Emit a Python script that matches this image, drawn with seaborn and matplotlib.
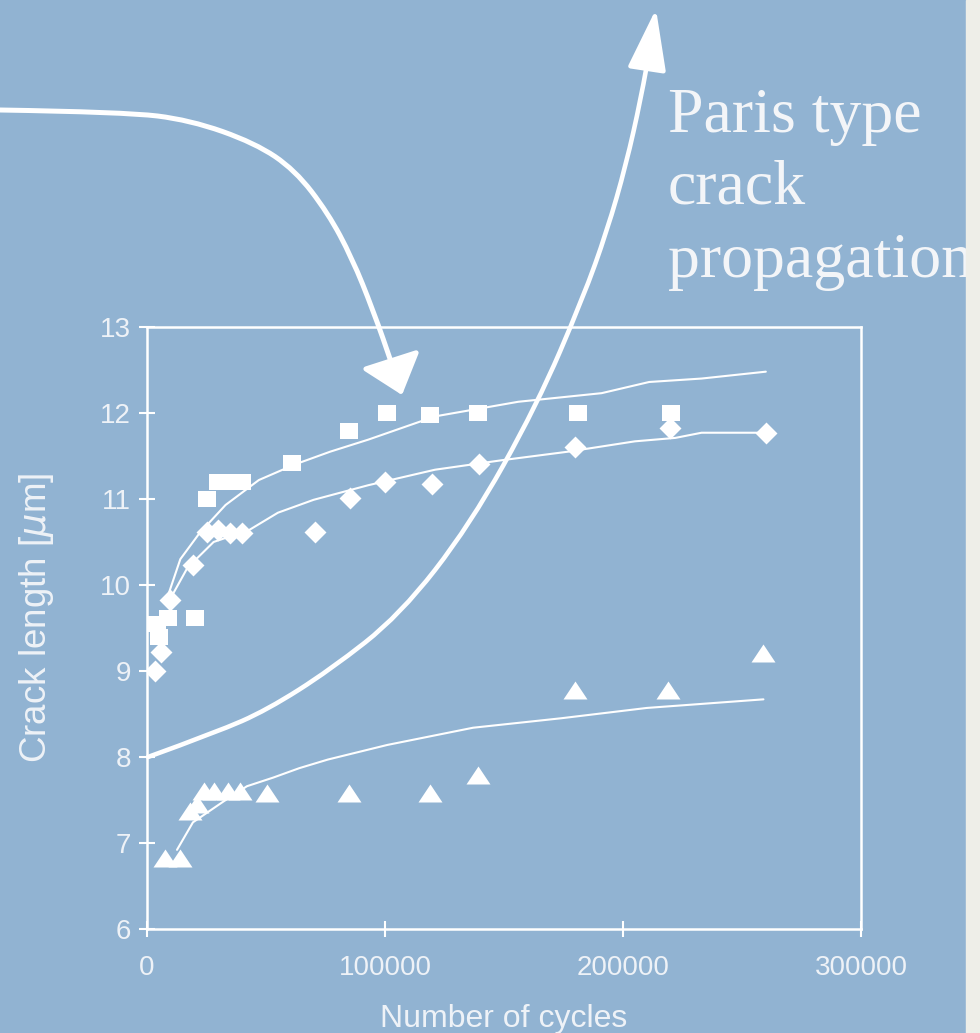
import numpy as np
import pandas as pd
import seaborn as sns
import matplotlib.pyplot as plt
from matplotlib.path import Path
from matplotlib.patches import FancyArrowPatch, Rectangle
from matplotlib.transforms import Affine2D

# measured points (number of cycles, crack length in um)
square_cycles = [4000, 5000, 9000, 20000, 25000, 30000, 35000, 40000, 61000,
                 85000, 101000, 119000, 139000, 181000, 220000]
square_length = [9.55, 9.4, 9.62, 9.62, 11.0, 11.2, 11.2, 11.2, 11.42,
                 11.79, 12.0, 11.98, 12.0, 12.0, 12.0]

diamond_cycles = [3500, 6000, 9700, 19300, 25000, 30000, 35000, 40000, 70600,
                  85300, 100000, 119700, 139500, 180000, 219800, 260000]
diamond_length = [9.0, 9.22, 9.83, 10.23, 10.62, 10.64, 10.6, 10.6, 10.62,
                  11.01, 11.2, 11.17, 11.41, 11.6, 11.83, 11.77]

triangle_cycles = [7600, 13900, 18000, 21000, 24000, 28000, 34000, 39000, 50400,
                   84700, 119000, 139000, 180000, 219000, 259000]
triangle_length = [6.82, 6.82, 7.37, 7.45, 7.6, 7.6, 7.6, 7.6, 7.58,
                   7.58, 7.58, 7.79, 8.78, 8.78, 9.21]

# model curves
fit1_cycles = [8500, 14000, 22000, 33000, 47000, 62000, 77000, 93000, 121000,
               156000, 191000, 211000, 233000, 260000]
fit1_length = [9.85, 10.3, 10.6, 10.93, 11.22, 11.4, 11.55, 11.69, 11.96,
               12.13, 12.23, 12.36, 12.40, 12.48]
fit2_cycles = [10000, 17000, 28000, 43000, 55000, 70000, 93000, 121000, 149000,
               177000, 205000, 222000, 233000, 260000]
fit2_length = [9.85, 10.2, 10.5, 10.64, 10.84, 10.99, 11.16, 11.34, 11.45,
               11.55, 11.67, 11.71, 11.77, 11.77]
fit3_cycles = [12600, 19300, 32000, 42000, 53000, 64000, 76000, 101000, 137000,
               174000, 210000, 259000]
fit3_length = [6.92, 7.24, 7.48, 7.66, 7.76, 7.87, 7.97, 8.14, 8.34,
               8.45, 8.57, 8.67]

x_ticks = [0, 100000, 200000, 300000]
y_ticks = [6, 7, 8, 9, 10, 11, 12, 13]

bg = '#91B3D2'
txt = '#EEF2F7'

sns.set_theme(style='white')
plt.rcParams['font.family'] = ['Liberation Sans', 'DejaVu Sans']

fig = plt.figure(figsize=(9.8, 10.33), dpi=100, facecolor=bg)
ax = fig.add_axes([0.15, 0.1007, 0.7286, 0.5828])
ax.set_facecolor(bg)

sq_marker = [(-1, -0.82), (1, -0.82), (1, 0.82), (-1, 0.82)]
di_marker = [(0, 1), (1, 0), (0, -1), (-1, 0)]
tr_marker = [(0, 0.75), (-1, -0.75), (1, -0.75)]

for xs, ys in [(fit1_cycles, fit1_length), (fit2_cycles, fit2_length), (fit3_cycles, fit3_length)]:
    sns.lineplot(x=xs, y=ys, sort=False, estimator=None, color='white', lw=1.5, ax=ax)

sns.scatterplot(x=square_cycles, y=square_length, marker=sq_marker, s=187,
                color='white', linewidth=0, ax=ax, zorder=3)
sns.scatterplot(x=diamond_cycles, y=diamond_length, marker=di_marker, s=250,
                color='white', linewidth=0, ax=ax, zorder=3)
sns.scatterplot(x=triangle_cycles, y=triangle_length, marker=tr_marker, s=299,
                color='white', linewidth=0, ax=ax, zorder=3)

ax.set_xlim(0, 300000)
ax.set_ylim(6, 13)
ax.set_xticks(x_ticks, labels=[str(t) for t in x_ticks])
ax.set_yticks(y_ticks, labels=[str(t) for t in y_ticks])
ax.tick_params(direction='inout', length=11, width=1.5, color='white',
               labelcolor=txt, labelsize=20, bottom=True, left=True)
ax.tick_params(axis='x', pad=13)
ax.tick_params(axis='y', pad=6)
for s in ax.spines.values():
    s.set_color('white')
    s.set_linewidth(1.8)

ax.set_xlabel('Number of cycles', fontsize=23, color=txt)
ax.xaxis.set_label_coords(0.5, -0.125)
ax.set_ylabel(r'Crack length [$\mu$m]', fontsize=26.5, color=txt)
ax.yaxis.set_label_coords(-0.128, 0.517)

# overlay annotation, in image pixels from the top-left corner
px = Affine2D().scale(1 / 980, -1 / 1033).translate(0, 1) + fig.transFigure


def smooth_path(pts):
    pts = np.asarray(pts, dtype=float)
    verts = [pts[0]]
    codes = [Path.MOVETO]
    for i in range(1, len(pts) - 1):
        end = pts[-1] if i == len(pts) - 2 else (pts[i] + pts[i + 1]) / 2
        verts += [pts[i], end]
        codes += [Path.CURVE3, Path.CURVE3]
    return Path(verts, codes)


arrow_a = [(0, 110), (125, 112), (190, 120), (255, 143), (295, 170), (328, 213),
           (352, 258), (373, 310), (393, 367), (402, 395)]
arrow_b = [(148, 757), (217, 732), (267, 710), (330, 670), (400, 615), (470, 525),
           (537, 405), (583, 298), (607, 231), (626, 165), (641, 98), (651, 42), (656, 9)]

fig.add_artist(FancyArrowPatch(path=smooth_path(arrow_a), transform=px,
                               arrowstyle='-|>,head_length=23,head_width=19',
                               mutation_scale=1, lw=3.6, color='white'))
fig.add_artist(FancyArrowPatch(path=smooth_path(arrow_b), transform=px,
                               arrowstyle='-|>,head_length=38,head_width=12',
                               mutation_scale=1, lw=3.3, color='white'))

serif = ['Liberation Serif', 'DejaVu Serif']
for line, base in [('Paris type', 132), ('crack', 203), ('propagation', 277)]:
    fig.text(668, base, line, transform=px, fontsize=46, family=serif,
             color='#F3F5F8', ha='left', va='baseline')

fig.add_artist(Rectangle((966 / 980, 0), 14 / 980, 1, transform=fig.transFigure,
                         color='#EEEEE8', zorder=10))

fig.savefig('out.png', dpi=100, facecolor=bg)
